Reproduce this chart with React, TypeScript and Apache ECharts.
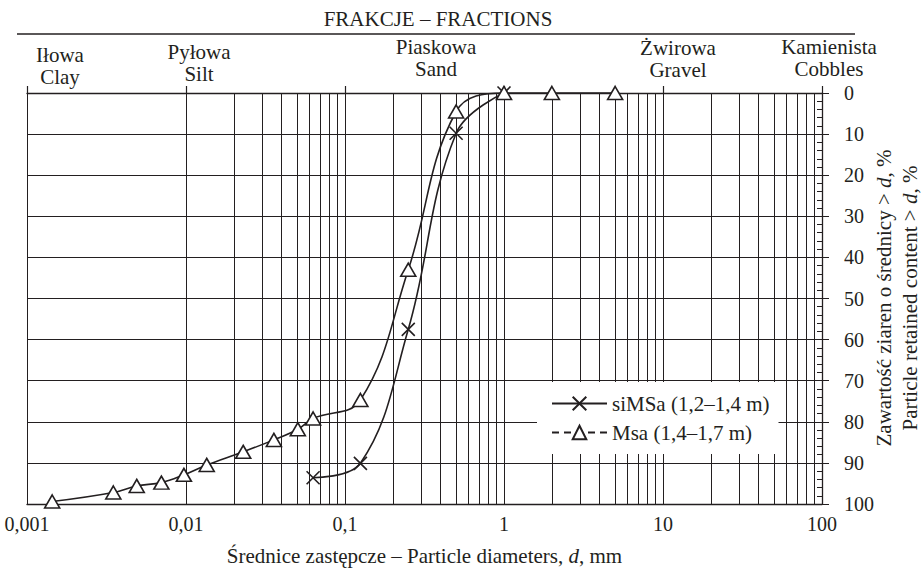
import React, { useEffect, useRef } from "react";
import * as echarts from "echarts";

const FONT = "Liberation Serif, Times New Roman, Times, serif";
const INK = "#231f20";

// --- data ---
const SI_NAME = "siMSa (1,2–1,4 m)";
const MS_NAME = "Msa (1,4–1,7 m)";
const siMSaDiam = [0.063, 0.125, 0.25, 0.5, 1];
const siMSaRetained = [93.6, 90.1, 57.5, 9.8, 0];
const msaDiam = [0.00144, 0.00349, 0.0049, 0.007, 0.0097, 0.0135, 0.0229, 0.0357, 0.0505, 0.063, 0.125, 0.25, 0.5, 1, 2, 5];
const msaRetained = [99.4, 97.2, 95.6, 94.8, 92.9, 90.5, 87.3, 84.4, 81.8, 79.2, 74.7, 43.0, 4.5, 0, 0, 0];

const fractionTop = ["Iłowa", "Pyłowa", "Piaskowa", "Żwirowa", "Kamienista"];
const fractionBottom = ["Clay", "Silt", "Sand", "Gravel", "Cobbles"];
const fractionX = [60, 199, 436, 678, 829];
const fractionY = [55, 52, 47, 48, 47];

const decades = [0.001, 0.01, 0.1, 1, 10];
const minorMultipliers = [2, 3, 4, 5, 6, 7, 8, 9];

const CROSS = "path://M0,0L10,10M10,0L0,10";

export default function App() {
  const ref = useRef<HTMLDivElement>(null);
  useEffect(() => {
    if (!ref.current) return;
    const chart = echarts.init(ref.current, null, { renderer: "svg" });
    const minorValues: number[] = [];
    decades.forEach((d) => minorMultipliers.forEach((m) => minorValues.push(parseFloat((d * m).toPrecision(6)))));

    const textStyle = (extra: any) => ({
      fontSize: 21,
      fontFamily: FONT,
      fill: INK,
      align: "center",
      verticalAlign: "middle",
      ...extra,
    });

    const graphic: any[] = [
      { type: "text", x: 438, y: 19, style: textStyle({ text: "FRAKCJE – FRACTIONS" }) },
      { type: "line", shape: { x1: 17, y1: 34, x2: 855, y2: 34 }, style: { stroke: INK, lineWidth: 1.5 } },
    ];
    fractionTop.forEach((t, i) => {
      graphic.push({ type: "text", x: fractionX[i], y: fractionY[i], style: textStyle({ text: t }) });
      graphic.push({ type: "text", x: fractionX[i], y: fractionY[i] + 22, style: textStyle({ text: fractionBottom[i] }) });
    });
    const rich = { i: { fontStyle: "italic", fontSize: 21, fontFamily: FONT, fill: INK } };
    graphic.push({
      type: "text",
      x: 424.5,
      y: 556,
      style: textStyle({ text: "Średnice zastępcze – Particle diameters, {i|d}, mm", rich }),
    });
    graphic.push({
      type: "text",
      x: 884,
      y: 298,
      rotation: Math.PI / 2,
      style: textStyle({ text: "Zawartość ziaren o średnicy > {i|d}, %", rich }),
    });
    graphic.push({
      type: "text",
      x: 910,
      y: 298,
      rotation: Math.PI / 2,
      style: textStyle({ text: "Particle retained content > {i|d}, %", rich }),
    });

    const fmt = (v: number) => parseFloat(Number(v).toPrecision(4)).toString().replace(".", ",");

    chart.setOption({
      animation: false,
      textStyle: { fontFamily: FONT },
      grid: { left: 27, right: 102, top: 93, bottom: 67, containLabel: false },
      xAxis: [
        {
          type: "log",
          logBase: 10,
          min: 0.001,
          max: 100,
          position: "bottom",
          axisLine: { show: true, onZero: false, lineStyle: { color: INK, width: 1.3 } },
          axisTick: { show: false },
          axisLabel: { margin: 10, fontSize: 20, fontFamily: FONT, color: INK, formatter: fmt },
          splitLine: { show: true, lineStyle: { color: INK, width: 1 } },
        },
        {
          type: "log",
          logBase: 10,
          min: 0.001,
          max: 100,
          position: "top",
          axisLine: { show: true, onZero: false, lineStyle: { color: INK, width: 1.3 } },
          axisTick: { show: true, length: 7, lineStyle: { color: INK, width: 1.2 } },
          axisLabel: { show: false },
          splitLine: { show: false },
        },
      ],
      yAxis: [
        {
          type: "value",
          position: "right",
          inverse: true,
          min: 0,
          max: 100,
          interval: 10,
          axisLine: { show: true, onZero: false, lineStyle: { color: INK, width: 1.3 } },
          axisTick: { show: true, length: 7, lineStyle: { color: INK, width: 1 } },
          axisLabel: { margin: 22, fontSize: 20, fontFamily: FONT, color: INK },
          splitLine: { show: true, lineStyle: { color: INK, width: 1 } },
        },
        {
          type: "value",
          position: "right",
          inverse: true,
          min: 0,
          max: 100,
          interval: 10,
          axisLine: { show: false, onZero: false },
          axisTick: { show: false, inside: true },
          minorTick: { show: true, splitNumber: 5, length: 5, lineStyle: { color: INK, width: 1 } },
          axisLabel: { show: false },
          splitLine: { show: false },
        },
      ],
      legend: {
        orient: "vertical",
        left: 537,
        top: 382,
        padding: [11, 9, 11, 14],
        backgroundColor: "#fff",
        itemWidth: 55,
        itemHeight: 17,
        itemGap: 8,
        selectedMode: false,
        z: 10,
        textStyle: { fontSize: 21, fontFamily: FONT, color: INK },
        data: [{ name: SI_NAME }, { name: MS_NAME, lineStyle: { type: [7, 5] } }],
      },
      graphic,
      series: [
        {
          name: SI_NAME,
          type: "line",
          xAxisIndex: 0,
          yAxisIndex: 0,
          data: siMSaDiam.map((d, i) => [d, siMSaRetained[i]]),
          smooth: 0.4,
          symbol: CROSS,
          symbolSize: 13,
          clip: false,
          z: 3,
          lineStyle: { color: INK, width: 1.6 },
          itemStyle: { color: "#fff", borderColor: INK, borderWidth: 1.6 },
          markLine: {
            silent: true,
            z: 1,
            symbol: ["none", "none"],
            label: { show: false },
            lineStyle: { color: INK, width: 1, type: "solid" },
            emphasis: { disabled: true },
            data: minorValues.map((v) => ({ xAxis: v })),
          },
        },
        {
          name: MS_NAME,
          type: "line",
          xAxisIndex: 0,
          yAxisIndex: 0,
          data: msaDiam.map((d, i) => [d, msaRetained[i]]),
          smooth: 0.4,
          symbol: "triangle",
          symbolSize: [15, 13],
          clip: false,
          z: 3,
          lineStyle: { color: INK, width: 1.6 },
          itemStyle: { color: "#fff", borderColor: INK, borderWidth: 1.6 },
        },
      ],
    });
    return () => chart.dispose();
  }, []);
  return <div ref={ref} style={{ position: "fixed", left: 0, top: 0, width: 924, height: 571, background: "#fff" }} />;
}
